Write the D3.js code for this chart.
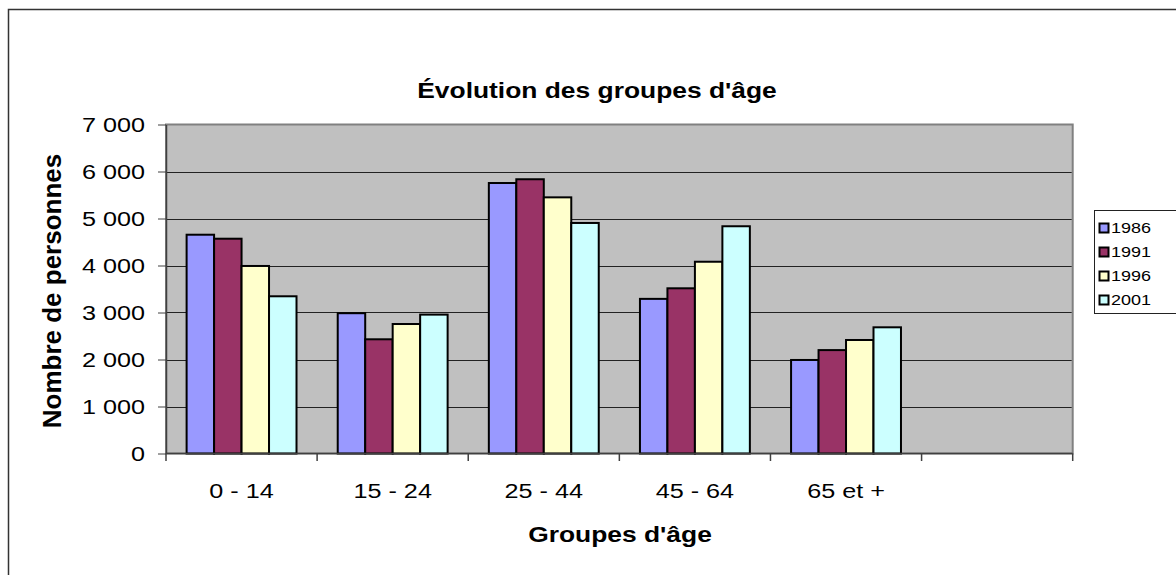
<!DOCTYPE html>
<html>
<head>
<meta charset="utf-8">
<script src="https://cdn.jsdelivr.net/npm/d3@7"></script>
<style>
  body { margin: 0; background: #fff; }
  svg { display: block; font-family: 'Liberation Sans', Arial, sans-serif; }
</style>
</head>
<body>
<div id="chart"></div>
<script>
let categories = ['0 - 14', '15 - 24', '25 - 44', '45 - 64', '65 et +']
let years = ['1986', '1991', '1996', '2001']
let v1986 = [4655, 2985, 5755, 3290, 1990]
let v1991 = [4570, 2430, 5835, 3515, 2200]
let v1996 = [3990, 2755, 5450, 4080, 2415]
let v2001 = [3345, 2955, 4905, 4835, 2685]
let yTicks = [0, 1000, 2000, 3000, 4000, 5000, 6000, 7000]
let colors = ['#9999FF', '#993366', '#FFFFCC', '#CCFFFF']

let series = [v1986, v1991, v1996, v2001]

let width = 1176
let height = 575
let plot = {left: 166, right: 1072.7, top: 124.5, bottom: 453.5}
let sx = 1.2 // the old picture is stretched sideways, text too

let svg = d3.select('#chart')
            .append('svg')
            .attr('width', width)
            .attr('height', height)

// chart frame (runs off the right and bottom edge)
svg.append('rect')
  .attr('x', 8.5)
  .attr('y', 9.5)
  .attr('width', 1300)
  .attr('height', 700)
  .attr('fill', '#fff')
  .attr('stroke', '#333')
  .attr('stroke-width', 1.5)

// empty sixth slot like in the original
let x = d3.scaleBand()
          .domain(categories.concat(['']))
          .range([plot.left, plot.right])
let xInner = d3.scaleBand()
          .domain(years)
          .range([0, x.bandwidth()])
          .paddingOuter(0.75)
let y = d3.scaleLinear()
          .domain([0, 7000])
          .range([plot.bottom, plot.top])

svg.append('rect')
  .attr('x', plot.left)
  .attr('y', plot.top)
  .attr('width', plot.right - plot.left)
  .attr('height', plot.bottom - plot.top)
  .attr('fill', '#C0C0C0')
  .attr('stroke', '#808080')
  .attr('stroke-width', 2)

svg.append('g')
  .selectAll('line')
  .data(yTicks.slice(1, -1))
  .join('line')
  .attr('x1', plot.left)
  .attr('x2', plot.right - 1)
  .attr('y1', d => Math.round(y(d)) + 0.5)
  .attr('y2', d => Math.round(y(d)) + 0.5)
  .attr('stroke', '#222')
  .attr('stroke-width', 1)

let groups = svg.append('g')
  .selectAll('g')
  .data(categories)
  .join('g')
  .attr('transform', d => `translate(${x(d)},0)`)

groups.selectAll('rect')
  .data((d, i) => years.map((yr, j) => ({year: yr, value: series[j][i], color: colors[j]})))
  .join('rect')
  .attr('x', d => xInner(d.year))
  .attr('y', d => y(d.value))
  .attr('width', xInner.bandwidth())
  .attr('height', d => y(0) - y(d.value))
  .attr('fill', d => d.color)
  .attr('stroke', '#000')
  .attr('stroke-width', 2)

// y axis
let fmt = d3.formatLocale({decimal: ',', thousands: ' ', grouping: [3], currency: ['', ' €']}).format(',')
let yAxis = svg.append('g')
  .attr('transform', `translate(${plot.left},0)`)
  .call(d3.axisLeft(y).tickValues(yTicks).tickFormat(fmt).tickSize(8).tickSizeOuter(0).tickPadding(9.5))
yAxis.attr('font-family', null).attr('font-size', 21)
yAxis.select('.domain').attr('stroke', '#404040').attr('stroke-width', 1.5)
yAxis.selectAll('.tick line').attr('stroke', '#404040')
yAxis.selectAll('text').attr('fill', '#000').attr('transform', `scale(${sx},1)`)

// x axis: labels in the middle, ticks on the slot borders
let xAxis = svg.append('g')
  .attr('transform', `translate(0,${plot.bottom})`)
  .call(d3.axisBottom(x).tickSize(0).tickPadding(29.6))
xAxis.attr('font-family', null).attr('font-size', 21)
xAxis.select('.domain').remove()
xAxis.selectAll('.tick')
  .attr('transform', d => `translate(${x(d) + x.bandwidth() / 2},0)`)
xAxis.selectAll('text').attr('fill', '#000').attr('transform', `scale(${sx},1)`)

let borders = x.domain().map(d => x(d)).concat([x.range()[1]])
svg.append('g')
  .selectAll('line')
  .data(borders)
  .join('line')
  .attr('x1', d => d)
  .attr('x2', d => d)
  .attr('y1', plot.bottom)
  .attr('y2', plot.bottom + 7.5)
  .attr('stroke', '#404040')
  .attr('stroke-width', 1.5)

svg.append('line')
  .attr('x1', plot.left)
  .attr('x2', plot.right)
  .attr('y1', plot.bottom)
  .attr('y2', plot.bottom)
  .attr('stroke', '#404040')
  .attr('stroke-width', 1.5)

// titles
svg.append('text')
  .attr('transform', `translate(597,98) scale(${sx},1)`)
  .attr('text-anchor', 'middle')
  .attr('font-size', 22)
  .attr('font-weight', 'bold')
  .text("Évolution des groupes d'âge")

svg.append('text')
  .attr('transform', `translate(620,542) scale(${sx},1)`)
  .attr('text-anchor', 'middle')
  .attr('font-size', 22)
  .attr('font-weight', 'bold')
  .text("Groupes d'âge")

svg.append('text')
  .attr('transform', 'translate(61,291) rotate(-90)')
  .attr('text-anchor', 'middle')
  .attr('font-size', 26)
  .attr('font-weight', 'bold')
  .text('Nombre de personnes')

// legend
let legend = svg.append('g')
legend.append('rect')
  .attr('x', 1094.5)
  .attr('y', 210.5)
  .attr('width', 120)
  .attr('height', 103)
  .attr('fill', '#fff')
  .attr('stroke', '#222')
  .attr('stroke-width', 1)

let item = legend.selectAll('g.item')
  .data(years)
  .join('g')
  .attr('class', 'item')
  .attr('transform', (d, i) => `translate(1099,${228 + i * 24})`)

item.append('rect')
  .attr('x', 0.5)
  .attr('y', -4.5)
  .attr('width', 9)
  .attr('height', 9)
  .attr('fill', (d, i) => colors[i])
  .attr('stroke', '#000')
  .attr('stroke-width', 2)

item.append('text')
  .attr('transform', `translate(12,0) scale(${sx},1)`)
  .attr('dy', '0.36em')
  .attr('font-size', 15)
  .text(d => d)
</script>
</body>
</html>
